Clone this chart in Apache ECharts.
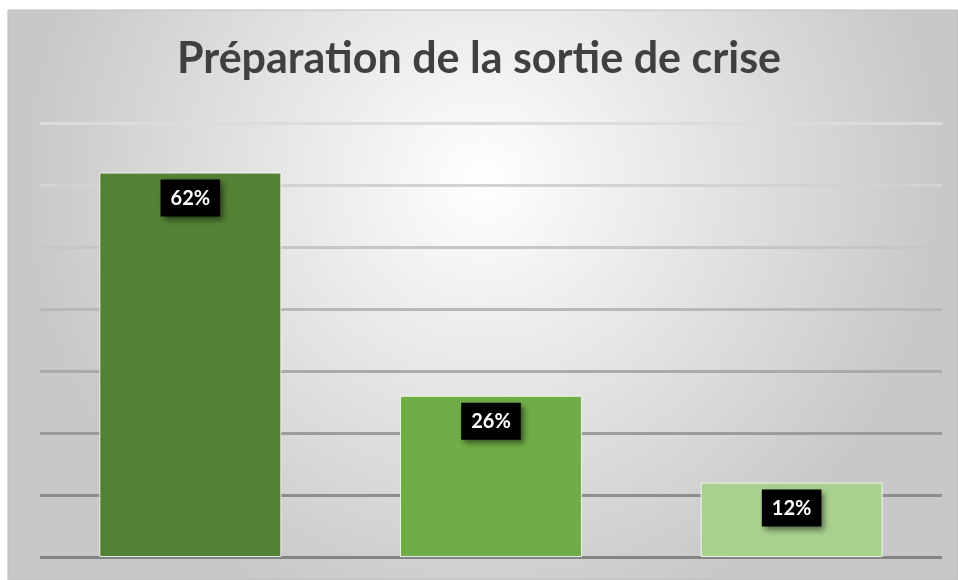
<!DOCTYPE html>
<html lang="fr">
<head>
  <meta charset="UTF-8">
  <script src="https://cdn.jsdelivr.net/npm/echarts@6.0.0/dist/echarts.min.js"></script>
  <style>
    html, body { margin: 0; padding: 0; background: #fff; }
  </style>
</head>
<body>
  <div id="chart" style="width: 958px; height: 580px;"></div>
  <script type="text/javascript">
    var categories = ['A', 'B', 'C'];
    var values = [0.62, 0.26, 0.12];
    var barColors = ['#548235', '#70ad47', '#a9d18e'];
    var gridColors = ['#dcdcdc', '#d2d2d2', '#c6c6c6', '#b8b8b8', '#aaaaaa', '#9c9c9c', '#8e8e8e', '#848484'];

    var chart = echarts.init(document.getElementById('chart'));

    var option = {
      backgroundColor: '#fff',
      graphic: [
        {
          type: 'rect',
          z: -10,
          silent: true,
          shape: { x: 8, y: 10, width: 950, height: 570 },
          style: {
            fill: {
              type: 'radial', x: 0.5, y: 0.3, r: 0.8,
              colorStops: [
                { offset: 0, color: '#ffffff' },
                { offset: 1, color: '#c8c8c8' }
              ]
            },
            stroke: '#bdbdbd',
            lineWidth: 1
          }
        }
      ],
      title: {
        text: 'Préparation de la sortie de crise',
        left: 'center',
        top: 33,
        textStyle: {
          fontFamily: 'Lato',
          fontWeight: 'bold',
          fontSize: 43,
          color: '#404040'
        }
      },
      grid: { left: 40, right: 16, top: 123, bottom: 23 },
      xAxis: {
        type: 'category',
        data: categories,
        axisLine: { show: false },
        axisTick: { show: false },
        axisLabel: { show: false }
      },
      yAxis: {
        type: 'value',
        min: 0,
        max: 0.7,
        interval: 0.1,
        axisLabel: { show: false },
        splitLine: { lineStyle: { color: gridColors.slice().reverse(), width: 3 } }
      },
      series: [
        {
          type: 'bar',
          barWidth: 182,
          data: values.map(function (v, i) {
            return { value: v, itemStyle: { color: barColors[i] } };
          }),
          itemStyle: { borderColor: 'rgba(255,255,255,0.8)', borderWidth: 1 },
          label: {
            show: true,
            position: 'insideTop',
            distance: 7,
            formatter: function (p) { return Math.round(p.value * 100) + '%'; },
            color: '#fff',
            fontFamily: 'Lato',
            fontWeight: 'bold',
            fontSize: 20,
            backgroundColor: '#000',
            padding: [9, 10, 8, 10],
            shadowColor: 'rgba(0,0,0,0.5)',
            shadowBlur: 6,
            shadowOffsetX: 3,
            shadowOffsetY: 3
          }
        }
      ]
    };

    chart.setOption(option);
  </script>
</body>
</html>
